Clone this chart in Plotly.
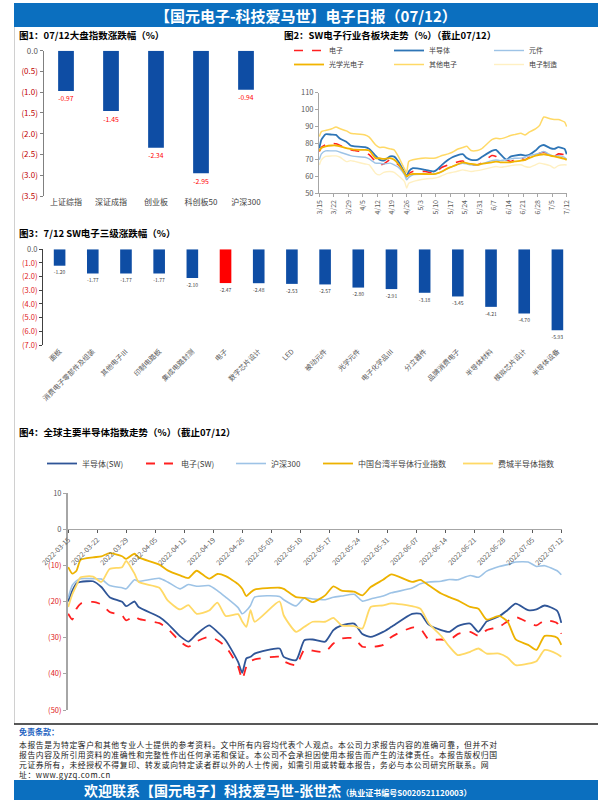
import plotly.graph_objects as go

W, H = 600, 800
def px(x): return x / W
def py(y): return 1 - y / H

FONT = "Noto Sans CJK SC"
BAR_BLUE = "#0E4DA4"
AX = "#A6A6A6"
RED_TICK = "#E02020"

# ---------------- data ----------------
fig1_cats = ["上证综指", "深证成指", "创业板", "科创板50", "沪深300"]
fig1_vals = [-0.97, -1.45, -2.34, -2.95, -0.94]

fig2_dates = ["2022-03-15", "2022-03-16", "2022-03-18", "2022-03-21", "2022-03-23", "2022-03-25", "2022-03-28", "2022-03-30",
              "2022-04-01", "2022-04-06", "2022-04-08", "2022-04-11", "2022-04-13", "2022-04-15", "2022-04-18", "2022-04-20",
              "2022-04-22", "2022-04-25", "2022-04-26", "2022-04-27", "2022-04-29",
              "2022-05-05", "2022-05-09", "2022-05-11", "2022-05-13", "2022-05-16", "2022-05-18", "2022-05-20", "2022-05-23",
              "2022-05-25", "2022-05-27", "2022-05-30",
              "2022-06-01", "2022-06-06", "2022-06-08", "2022-06-10", "2022-06-13", "2022-06-15", "2022-06-17", "2022-06-20",
              "2022-06-22", "2022-06-24", "2022-06-27", "2022-06-29",
              "2022-07-01", "2022-07-04", "2022-07-06", "2022-07-08", "2022-07-11", "2022-07-12"]
fig2_dianzi = [74.9, 77.5, 79.0, 79.8, 79.5, 78.5, 76.5, 76.0,
               75.5, 74.5, 73.0, 69.0, 67.0, 67.5, 70.0, 69.5, 67.0, 62.5, 59.5, 61.5, 63.0,
               63.0, 62.0, 63.5, 65.5, 66.9, 67.5, 68.5, 69.3, 68.0, 67.0, 67.0,
               68.0, 72.5, 72.0, 70.5, 70.0, 69.0, 70.0, 71.0, 70.0, 71.5, 72.5, 73.9,
               74.5, 73.0, 72.0, 73.5, 73.0, 71.9]
fig2_bandaoti = [76.9, 82.0, 85.2, 85.0, 84.8, 82.5, 80.8, 78.5,
                 78.0, 77.5, 76.5, 72.5, 70.0, 69.5, 72.0, 71.9, 69.0, 62.5, 60.0, 63.0, 65.0,
                 64.0, 63.0, 64.5, 67.0, 70.0, 71.5, 72.5, 73.3, 71.0, 70.0, 70.0,
                 71.5, 75.3, 75.9, 73.5, 70.0, 71.9, 72.5, 73.0, 72.5, 73.0, 75.5, 77.9,
                 78.8, 77.0, 76.5, 77.5, 76.5, 73.3]
fig2_yuanjian = [69.9, 73.5, 75.3, 75.3, 75.3, 74.5, 73.3, 72.5,
                 72.0, 71.5, 70.5, 68.0, 67.9, 67.5, 68.0, 67.0, 65.5, 61.0, 58.0, 59.5, 61.0,
                 61.5, 61.4, 62.0, 63.0, 65.0, 66.0, 67.0, 67.9, 67.5, 67.0, 67.0,
                 67.5, 69.5, 69.9, 69.5, 70.0, 70.5, 70.9, 71.0, 71.5, 72.5, 73.3, 74.0,
                 74.9, 73.0, 72.0, 72.5, 71.5, 70.3]
fig2_guangxue = [75.3, 77.0, 78.0, 78.5, 78.5, 78.0, 76.9, 76.5,
                 76.0, 75.9, 75.5, 71.0, 70.9, 70.5, 71.0, 70.0, 67.5, 62.0, 60.0, 61.0, 61.5,
                 61.5, 61.4, 62.0, 63.0, 65.0, 66.0, 67.0, 68.5, 68.0, 67.5, 67.0,
                 67.5, 68.5, 68.9, 68.5, 68.5, 68.5, 69.0, 69.5, 70.0, 71.0, 72.5, 73.0,
                 73.3, 72.5, 72.0, 71.5, 70.5, 69.9]
fig2_qita = [83.8, 86.8, 87.5, 88.5, 89.5, 88.5, 87.2, 85.8,
             85.5, 84.8, 83.5, 79.0, 77.3, 77.5, 76.5, 75.9, 72.0, 64.5, 62.5, 69.0, 70.0,
             71.0, 70.9, 71.5, 72.5, 73.5, 74.5, 76.0, 77.3, 78.0, 75.5, 75.5,
             76.5, 82.0, 82.8, 82.5, 83.5, 84.5, 85.0, 85.8, 84.8, 86.5, 88.4, 90.5,
             95.5, 94.5, 94.0, 94.0, 92.5, 89.8]
fig2_zhizao = [66.9, 70.0, 72.0, 72.3, 72.3, 71.5, 68.9, 69.5,
               69.0, 67.5, 67.0, 62.0, 61.0, 62.5, 63.0, 62.5, 60.5, 57.0, 53.1, 56.0, 57.0,
               58.5, 59.0, 59.5, 60.5, 62.0, 62.5, 63.0, 64.0, 63.5, 63.0, 63.5,
               64.0, 65.5, 66.0, 65.5, 66.0, 66.5, 66.9, 67.0, 66.0, 65.5, 67.0, 68.0,
               67.5, 66.5, 65.0, 66.5, 67.0, 66.9]

fig3_cats = ["面板", "消费电子零部件及组装", "其他电子Ⅲ", "印制电路板", "集成电路封测", "电子", "数字芯片设计", "LED",
             "被动元件", "光学元件", "电子化学品Ⅲ", "分立器件", "品牌消费电子", "半导体材料", "模拟芯片设计", "半导体设备"]
fig3_vals = [-1.20, -1.77, -1.77, -1.77, -2.10, -2.47, -2.48, -2.53, -2.57, -2.80, -2.91, -3.18, -3.45, -4.21, -4.70, -5.93]
fig3_highlight = "电子"

fig4_dates = ["2022-03-15", "2022-03-16", "2022-03-17", "2022-03-18", "2022-03-21", "2022-03-23", "2022-03-25", "2022-03-28",
              "2022-03-29", "2022-03-31",
              "2022-04-01", "2022-04-06", "2022-04-08", "2022-04-11", "2022-04-13", "2022-04-15", "2022-04-18", "2022-04-20",
              "2022-04-22", "2022-04-25", "2022-04-26", "2022-04-27", "2022-04-28", "2022-04-29",
              "2022-05-05", "2022-05-06", "2022-05-09", "2022-05-11", "2022-05-13", "2022-05-16", "2022-05-18", "2022-05-20",
              "2022-05-23", "2022-05-25", "2022-05-27", "2022-05-30",
              "2022-06-01", "2022-06-06", "2022-06-08", "2022-06-10", "2022-06-13", "2022-06-15", "2022-06-17", "2022-06-20",
              "2022-06-22", "2022-06-24", "2022-06-27", "2022-06-29",
              "2022-07-01", "2022-07-04", "2022-07-06", "2022-07-08", "2022-07-11", "2022-07-12"]
fig4_semi_sw = [-20.0, -17.0, -15.0, -14.6, -14.4, -16.0, -18.8, -20.1, -21.3, -20.0,
                -21.5, -24.3, -26.1, -29.6, -31.1, -29.0, -26.6, -28.4, -30.7, -36.7, -39.7, -35.7, -35.3, -34.4,
                -33.0, -35.3, -36.2, -30.7, -30.5, -31.1, -27.9, -26.6, -26.1, -29.0, -29.8, -28.4,
                -27.0, -23.4, -23.4, -26.4, -27.9, -28.4, -26.8, -26.1, -28.4, -25.5, -24.1, -22.4,
                -20.6, -22.4, -22.2, -21.1, -22.6, -25.9]
fig4_elec_sw = [-23.4, -25.0, -22.0, -20.6, -20.1, -20.8, -22.9, -23.9, -25.2, -24.0,
                -24.8, -26.0, -27.5, -31.1, -32.5, -31.0, -29.8, -30.7, -32.5, -38.0, -41.5, -38.0, -36.5, -36.0,
                -35.3, -36.5, -37.6, -33.3, -33.6, -33.9, -31.6, -30.2, -30.2, -32.5, -32.6, -32.0,
                -29.8, -27.2, -27.5, -30.5, -30.5, -30.7, -29.0, -28.4, -29.5, -27.9, -27.0, -25.5,
                -24.3, -25.8, -26.6, -25.2, -26.0, -28.9]
fig4_hs300 = [-19.0, -15.5, -14.3, -13.7, -13.7, -13.8, -15.6, -16.2, -16.5, -14.0,
              -14.4, -13.6, -14.6, -16.5, -15.3, -15.8, -15.6, -17.0, -18.8, -21.7, -23.4, -22.5, -21.1, -18.8,
              -18.6, -19.5, -21.2, -19.0, -19.3, -19.5, -18.8, -18.5, -18.0, -19.9, -19.3, -18.5,
              -17.6, -16.3, -15.1, -14.6, -14.4, -13.9, -14.0, -12.8, -13.3, -11.6, -10.3, -9.8,
              -9.1, -9.1, -10.3, -10.1, -11.5, -12.6]
fig4_taiwan = [-10.5, -12.3, -11.5, -8.5, -7.8, -7.5, -6.6, -7.5, -8.2, -6.8,
               -7.8, -9.8, -11.4, -12.8, -13.5, -11.5, -13.7, -12.4, -13.0, -15.2, -16.5, -18.5, -17.5, -16.7,
               -16.2, -16.5, -18.8, -19.0, -20.2, -18.3, -15.8, -17.0, -17.3, -18.3, -16.0, -14.0,
               -12.5, -14.6, -14.0, -15.5, -17.8, -18.8, -19.7, -21.5, -22.0, -25.0, -24.0, -25.5,
               -30.5, -32.0, -33.4, -29.5, -30.0, -32.0]
fig4_sox = [-21.5, -18.0, -15.5, -13.3, -13.1, -14.6, -11.0, -10.5, -8.8, -12.3,
            -14.6, -16.2, -19.7, -22.2, -21.0, -23.4, -22.5, -20.3, -24.0, -23.5, -25.5, -27.0, -22.4, -25.6,
            -20.0, -23.8, -28.4, -27.0, -25.6, -25.6, -24.5, -26.6, -26.8, -27.5, -21.5, -21.1,
            -20.5, -21.3, -22.0, -26.0, -29.5, -32.5, -34.8, -33.9, -33.0, -34.4, -34.4, -35.5,
            -37.6, -37.2, -36.5, -33.4, -34.5, -35.3]

fig1_yticks = [0.0, -0.5, -1.0, -1.5, -2.0, -2.5, -3.0, -3.5]
fig3_yticks = [0, -1, -2, -3, -4, -5, -6, -7]
fig4_yticks = [10, 0, -10, -20, -30, -40, -50]

def neg_label(v, fmt, color):
    if v < 0:
        return f'<span style="color:{color}">({fmt.format(-v)})</span>'
    return fmt.format(v)

fig = go.Figure()

# ---------------- Fig 1 ----------------
fig.add_trace(go.Bar(
    x=fig1_cats, y=fig1_vals, xaxis="x", yaxis="y", width=0.35,
    marker=dict(color=BAR_BLUE, line=dict(width=0)),
    text=[f"{v:.2f}" for v in fig1_vals], textposition="outside",
    textfont=dict(color="#FF0000", size=8, family=FONT), cliponaxis=False,
    showlegend=False, hoverinfo="skip"))

# ---------------- Fig 2 ----------------
# (name, values, line style, legend id, legend left px, legend top px)
f2_series = [
    ("电子", fig2_dianzi, dict(color="#FF2020", width=1.6, dash="dash"), "legend", 289, 36),
    ("半导体", fig2_bandaoti, dict(color="#2E75B6", width=1.8), "legend3", 389, 36),
    ("元件", fig2_yuanjian, dict(color="#9DC3E6", width=1.4), "legend5", 489, 36),
    ("光学光电子", fig2_guangxue, dict(color="#F2B400", width=1.8), "legend6", 289, 50),
    ("其他电子", fig2_qita, dict(color="#FFD966", width=1.5), "legend7", 389, 50),
    ("电子制造", fig2_zhizao, dict(color="#FFF0C2", width=1.4), "legend8", 489, 50),
]
for name, vals, line, lg, _, _ in f2_series:
    fig.add_trace(go.Scatter(x=fig2_dates, y=vals, name=name, mode="lines", line=dict(shape="spline", smoothing=0.5, **line),
                             xaxis="x3", yaxis="y3", legend=lg, hoverinfo="skip"))

# ---------------- Fig 3 ----------------
fig.add_trace(go.Bar(
    x=fig3_cats, y=fig3_vals, xaxis="x4", yaxis="y4", width=0.35,
    marker=dict(color=["#FF0000" if c == fig3_highlight else BAR_BLUE for c in fig3_cats], line=dict(width=0)),
    text=[f"{v:.2f}" for v in fig3_vals], textposition="outside",
    textfont=dict(color="#404040", size=7, family=FONT), cliponaxis=False,
    showlegend=False, hoverinfo="skip"))

# ---------------- Fig 4 ----------------
f4_series = [
    ("半导体(SW)", fig4_semi_sw, dict(color="#2F5597", width=1.8), "legend2", 42),
    ("电子(SW)", fig4_elec_sw, dict(color="#FF2020", width=1.8, dash="dash"), "legend4", 141),
    ("沪深300", fig4_hs300, dict(color="#9DC3E6", width=1.6), "legend9", 231),
    ("中国台湾半导体行业指数", fig4_taiwan, dict(color="#EDB200", width=1.8), "legend10", 318),
    ("费城半导体指数", fig4_sox, dict(color="#FFD966", width=1.8), "legend11", 458),
]
for name, vals, line, lg, _ in f4_series:
    fig.add_trace(go.Scatter(x=fig4_dates, y=vals, name=name, mode="lines", line=dict(shape="spline", smoothing=0.6, **line),
                             xaxis="x6", yaxis="y6", legend=lg, hoverinfo="skip"))

axis_common = dict(showgrid=False, zeroline=False, fixedrange=True)
DAY7 = 7 * 86400000

legend_common = dict(orientation="h", xanchor="left", yanchor="top", bgcolor="rgba(0,0,0,0)", tracegroupgap=0)
legends = {}
for _, _, _, lg, lx, ly in f2_series:
    legends[lg] = dict(x=px(lx), y=py(ly), font=dict(size=7, color="#404040"), **legend_common)
for _, _, _, lg, lx in f4_series:
    legends[lg] = dict(x=px(lx), y=py(449), font=dict(size=8, color="#404040"), **legend_common)

fig.update_layout(
    width=W, height=H, margin=dict(l=0, r=0, t=0, b=0, autoexpand=False),
    paper_bgcolor="white", plot_bgcolor="rgba(0,0,0,0)",
    font=dict(family=FONT, size=8, color="#404040"),
    hovermode=False,
    # fig1
    xaxis=dict(domain=[px(43.5), px(268.5)], anchor="y", type="category", range=[-0.5, len(fig1_cats) - 0.5],
               showline=False, ticks="", tickfont=dict(size=8, color="#404040"), **axis_common),
    xaxis2=dict(domain=[px(43.5), px(268.5)], anchor="y", overlaying="x", side="top",
                range=[-0.5, len(fig1_cats) - 0.5], tickvals=[i - 0.5 for i in range(len(fig1_cats) + 1)],
                showticklabels=False, showline=True, linecolor="#808080", ticks="outside", ticklen=3,
                tickcolor="#808080", **axis_common),
    yaxis=dict(domain=[py(196), py(50.7)], anchor="x", range=[-3.5, 0], tickvals=fig1_yticks,
               ticktext=[neg_label(v, "{:.1f}", "#C00000") for v in fig1_yticks],
               tickfont=dict(size=8, color="#595959"), showline=True, linecolor="#808080",
               ticks="outside", ticklen=3, tickcolor="#808080", **axis_common),
    # fig2
    xaxis3=dict(domain=[px(319), px(567)], anchor="y3", type="date",
                range=["2022-03-14 20:00", "2022-07-12 04:00"], tick0="2022-03-15", dtick=DAY7,
                tickformat="%-m/%-d", tickangle=-90, tickfont=dict(size=7, color="#595959"),
                showline=True, linecolor=AX, ticks="outside", ticklen=3, tickcolor=AX, **axis_common),
    yaxis3=dict(domain=[py(193.3), py(92.7)], anchor="x3", range=[50, 110], dtick=10,
                tickfont=dict(size=7.5, color="#595959"), showline=True, linecolor=AX,
                ticks="outside", ticklen=3, tickcolor=AX, **axis_common),
    # fig3
    xaxis4=dict(domain=[px(43), px(574)], anchor="y4", type="category", range=[-0.5, len(fig3_cats) - 0.5],
                showline=False, ticks="", tickangle=-45, tickfont=dict(size=7, color="#595959"), **axis_common),
    xaxis5=dict(domain=[px(43), px(574)], anchor="y4", overlaying="x4", side="top",
                range=[-0.5, len(fig3_cats) - 0.5], tickvals=[i - 0.5 for i in range(len(fig3_cats) + 1)],
                showticklabels=False, showline=True, linecolor="#808080", ticks="outside", ticklen=3,
                tickcolor="#808080", **axis_common),
    yaxis4=dict(domain=[py(345), py(249.3)], anchor="x4", range=[-7, 0], tickvals=fig3_yticks,
                ticktext=[neg_label(v, "{:.1f}", RED_TICK) for v in fig3_yticks],
                tickfont=dict(size=7.5, color="#595959"), showline=True, linecolor="#404040",
                ticks="outside", ticklen=3, tickcolor="#404040", **axis_common),
    # fig4
    xaxis6=dict(domain=[px(67.5), px(562)], anchor="free", position=py(528.5), type="date",
                range=["2022-03-14 20:00", "2022-07-12 04:00"], tick0="2022-03-15", dtick=DAY7,
                tickformat="%Y-%m-%d", tickangle=-45, tickfont=dict(size=7, color="#595959"),
                showline=True, linecolor=AX, linewidth=1.5, ticks="outside", ticklen=3, tickcolor="#595959",
                **axis_common),
    yaxis6=dict(domain=[py(710), py(493)], anchor="x6", range=[-50, 10], tickvals=fig4_yticks,
                ticktext=[neg_label(v, "{:.0f}", RED_TICK) for v in fig4_yticks],
                tickfont=dict(size=7.5, color="#595959"), showline=True, linecolor=AX, linewidth=1.5,
                ticks="outside", ticklen=3, tickcolor=AX, **axis_common),
    **legends,
)

shapes = [
    dict(type="rect", xref="paper", yref="paper", x0=px(14), x1=px(598), y0=py(27), y1=py(3),
         fillcolor="#0B6FBF", line=dict(width=0), layer="below"),
    dict(type="rect", xref="paper", yref="paper", x0=px(14), x1=px(598), y0=py(800), y1=py(780),
         fillcolor="#0B6FBF", line=dict(width=0), layer="below"),
    dict(type="line", xref="paper", yref="paper", x0=px(14.5), x1=px(14.5), y0=py(27), y1=py(724),
         line=dict(color="#D0D0D0", width=1)),
    dict(type="line", xref="paper", yref="paper", x0=px(14), x1=px(598), y0=py(724), y1=py(724),
         line=dict(color="#202020", width=1.5)),
]
fig.update_layout(shapes=shapes)

def ann(text, x, y, size, color="#000000", xanchor="left", bold=False, yanchor="middle"):
    return dict(text=f"<b>{text}</b>" if bold else text, x=px(x), y=py(y), xref="paper", yref="paper",
                xanchor=xanchor, yanchor=yanchor, showarrow=False, align="left",
                font=dict(size=size, color=color, family=FONT))

disclaimer = [
    "本报告是为特定客户和其他专业人士提供的参考资料。文中所有内容均代表个人观点。本公司力求报告内容的准确可靠，但并不对",
    "报告内容及所引用资料的准确性和完整性作出任何承诺和保证。本公司不会承担因使用本报告而产生的法律责任。本报告版权归国",
    "元证券所有，未经授权不得复印、转发或向特定读者群以外的人士传阅，如需引用或转载本报告，务必与本公司研究所联系。网",
    "址：www.gyzq.com.cn",
]
disclaimer_html = "<br>".join(f'<span style="letter-spacing:0.6px">{t}</span>' for t in disclaimer)

annotations = [
    ann("【国元电子-科技爱马世】电子日报（07/12）", 306, 15, 15, "white", "center", True),
    ann("图1：07/12大盘指数涨跌幅（%）", 17, 35, 9.5, bold=True),
    ann("图2：SW电子行业各板块走势（%）（截止07/12）", 282, 35, 9.5, bold=True),
    ann("图3：7/12 SW电子三级涨跌幅（%）", 17, 233, 9.5, bold=True),
    ann("图4：全球主要半导体指数走势（%）（截止07/12）", 17, 432, 9.5, bold=True),
    ann("免责条款：", 17, 731, 8, "#2060C0", bold=True),
    ann(disclaimer_html, 17, 736.5, 7.8, "#202020", yanchor="top"),
    ann("欢迎联系【国元电子】科技爱马世-张世杰<span style=\"font-size:8px\">（执业证书编号S0020521120003）</span>",
        82, 790, 14, "white", "left", True),
]
fig.update_layout(annotations=annotations)

fig.write_html("out.html", config={"displayModeBar": False, "staticPlot": True},
               post_script="document.body.style.margin='0';")
